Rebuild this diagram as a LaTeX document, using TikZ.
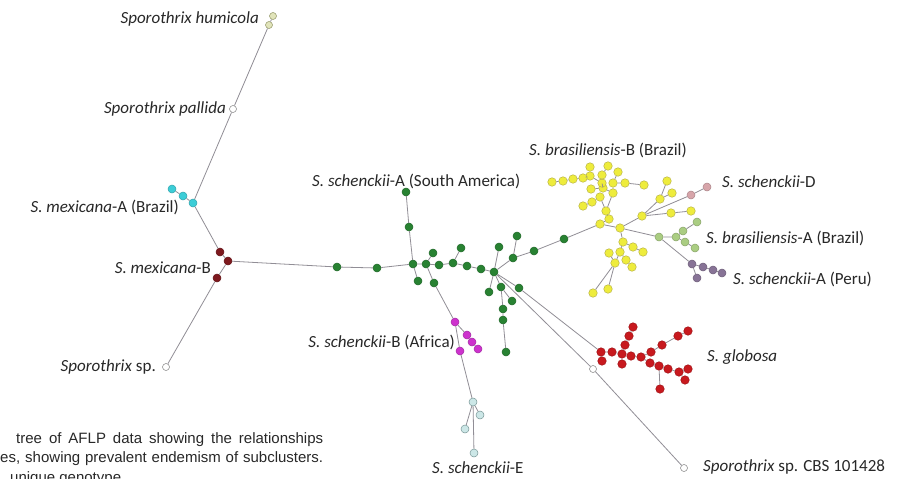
\documentclass[tikz,border=0pt]{standalone}
\usepackage{fontspec}
\setmainfont{Carlito}
\newfontfamily\capfont{Liberation Sans}
\definecolor{edgec}{RGB}{145,142,150}
\definecolor{txt}{RGB}{40,40,40}
\definecolor{cgreen}{RGB}{40,130,50}
\definecolor{cyellow}{RGB}{238,236,60}
\definecolor{cyellowd}{RGB}{185,180,70}
\definecolor{ccyan}{RGB}{60,205,215}
\definecolor{cmaroon}{RGB}{125,25,30}
\definecolor{cmagenta}{RGB}{205,50,205}
\definecolor{cred}{RGB}{200,25,30}
\definecolor{cpink}{RGB}{215,165,170}
\definecolor{clgreen}{RGB}{170,205,130}
\definecolor{cpurple}{RGB}{135,115,150}
\definecolor{cltblue}{RGB}{170,215,215}
\definecolor{colive}{RGB}{205,210,140}
\tikzset{
  dot/.style={circle, inner sep=0pt, minimum size=8pt, line width=0.5pt},
  gn/.style={dot, fill=cgreen, draw=cgreen!80!black},
  yn/.style={dot, minimum size=8.5pt, fill=cyellow, draw=cyellowd},
  cn/.style={dot, fill=ccyan, draw=ccyan!80!black},
  mn/.style={dot, fill=cmaroon, draw=cmaroon!80!black},
  mgn/.style={dot, fill=cmagenta, draw=cmagenta!80!black},
  rn/.style={dot, minimum size=8.5pt, fill=cred, draw=cred!80!black},
  pn/.style={dot, fill=cpink, draw=cpink!80!black},
  lgn/.style={dot, fill=clgreen, draw=clgreen!80!black},
  pun/.style={dot, fill=cpurple, draw=cpurple!80!black},
  lbn/.style={dot, fill=cltblue!60!white, draw=cltblue!70!black},
  on/.style={dot, minimum size=7pt, fill=colive!60!white, draw=colive!70!black},
  wn/.style={dot, minimum size=7pt, fill=white, draw=gray},
  lab/.style={inner sep=0pt, text=txt, font=\fontsize{17}{20}\selectfont},
  capt/.style={inner sep=0pt, anchor=base west, text=txt, font=\capfont\fontsize{15}{17}\selectfont},
  ed/.style={draw=edgec, line width=0.8pt}
}
\begin{document}
\begin{tikzpicture}[x=1pt,y=-1pt]
\clip (0,0) rectangle (902,479);
\fill[white] (0,0) rectangle (902,479);
% ---------- left part
\node[on] (hum1) at (273,16) {};
\node[on] (hum2) at (269,25) {};
\node[wn] (pal) at (233,109) {};
\node[cn] (cy1) at (172,189) {};
\node[cn] (cy2) at (183,196) {};
\node[cn] (cy3) at (193,203) {};
\node[mn] (m1) at (220,252) {};
\node[mn] (m2) at (228,261) {};
\node[mn] (m3) at (217,278) {};
\node[wn] (sp) at (166,367) {};
% ---------- green
\node[gn] (g1) at (337,267) {};
\node[gn] (g2) at (377,268) {};
\node[gn] (gA) at (413,264) {};
\node[gn] (gt1) at (409,227) {};
\node[gn] (gt2) at (406,192) {};
\node[gn] (gd1) at (418,281) {};
\node[gn] (g3) at (426,264) {};
\node[gn] (g3u) at (433,253) {};
\node[gn] (g3d) at (434,283) {};
\node[gn] (g4) at (439,265) {};
\node[gn] (g5) at (453,263) {};
\node[gn] (g5u) at (461,248) {};
\node[gn] (g6) at (467,266) {};
\node[gn] (g7) at (481,269) {};
\node[gn] (gB) at (494,272) {};
\node[gn] (gBu) at (499,247) {};
\node[gn] (gBr1) at (513,258) {};
\node[gn] (gBr1u) at (517,236) {};
\node[gn] (gBr2) at (534,251) {};
\node[gn] (gBr3) at (564,239) {};
\node[gn] (gl1) at (489,292) {};
\node[gn] (gl2) at (501,287) {};
\node[gn] (gl2r) at (512,301) {};
\node[gn] (gl3) at (503,309) {};
\node[gn] (gl4) at (503,320) {};
\node[gn] (gl5) at (506,352) {};
\node[gn] (gr) at (519,288) {};
% ---------- magenta / light blue
\node[mgn] (mg1) at (455,322) {};
\node[mgn] (mg2) at (467,335) {};
\node[mgn] (mg3) at (472,342) {};
\node[mgn] (mg4) at (478,349) {};
\node[mgn] (mg5) at (460,351) {};
\node[lbn] (e1) at (473,402) {};
\node[lbn] (e2) at (480,415) {};
\node[lbn] (e3) at (465,429) {};
\node[lbn] (e4) at (474,453) {};
% ---------- yellow
\node[yn] (yv) at (600,224) {};
\node[yn] (yu) at (609,219) {};
\node[yn] (yh) at (620,228) {};
\node[yn] (yt) at (606,211) {};
\node[yn] (yp) at (613,193) {};
\node[yn] (yr) at (600,197) {};
\node[yn] (yq) at (592,202) {};
\node[yn] (ys) at (583,206) {};
\node[yn] (yo) at (603,188) {};
\node[yn] (yn1) at (591,189) {};
\node[yn] (yk) at (613,183) {};
\node[yn] (yl) at (625,183) {};
\node[yn] (ym) at (644,185) {};
\node[yn] (yi) at (618,172) {};
\node[yn] (yj) at (602,183) {};
\node[yn] (ye) at (590,176) {};
\node[yn] (yd) at (583,178) {};
\node[yn] (yc) at (573,179) {};
\node[yn] (yb) at (563,181) {};
\node[yn] (ya) at (552,182) {};
\node[yn] (yg) at (602,175) {};
\node[yn] (yhh) at (608,166) {};
\node[yn] (yf) at (590,167) {};
\node[yn] (L1) at (623,242) {};
\node[yn] (L2) at (620,252) {};
\node[yn] (L3) at (633,247) {};
\node[yn] (L4) at (643,252) {};
\node[yn] (L5) at (626,260) {};
\node[yn] (L6) at (632,267) {};
\node[yn] (L7) at (615,263) {};
\node[yn] (L8) at (609,253) {};
\node[yn] (L9) at (608,289) {};
\node[yn] (L10) at (593,293) {};
\node[yn] (R0) at (642,216) {};
\node[yn] (R1) at (660,199) {};
\node[yn] (R2) at (667,181) {};
\node[yn] (R3) at (672,193) {};
\node[yn] (R4) at (671,213) {};
\node[yn] (R5) at (691,211) {};
\node[pn] (P1) at (691,195) {};
\node[pn] (P2) at (707,187) {};
\node[lgn] (LG1) at (659,237) {};
\node[lgn] (LG2) at (676,237) {};
\node[lgn] (LG3) at (683,231) {};
\node[lgn] (LG4) at (697,222) {};
\node[lgn] (LG5) at (685,242) {};
\node[lgn] (LG6) at (695,248) {};
\node[pun] (PU1) at (692,264) {};
\node[pun] (PU2) at (703,267) {};
\node[pun] (PU3) at (713,270) {};
\node[pun] (PU4) at (722,273) {};
\node[pun] (PU5) at (697,278) {};
% ---------- red
\node[rn] (r1) at (601,352) {};
\node[rn] (r2) at (602,361) {};
\node[rn] (r3) at (612,352) {};
\node[rn] (r4) at (622,354) {};
\node[rn] (r5) at (622,364) {};
\node[rn] (r6) at (625,345) {};
\node[rn] (r7) at (629,336) {};
\node[rn] (r8) at (633,327) {};
\node[rn] (r9) at (631,356) {};
\node[rn] (r10) at (641,357) {};
\node[rn] (r11) at (651,352) {};
\node[rn] (r12) at (662,345) {};
\node[rn] (r13) at (678,336) {};
\node[rn] (r14) at (688,331) {};
\node[rn] (r15) at (650,363) {};
\node[rn] (r16) at (659,366) {};
\node[rn] (r17) at (668,369) {};
\node[rn] (r18) at (679,372) {};
\node[rn] (r19) at (688,369) {};
\node[rn] (r20) at (685,380) {};
\node[rn] (r21) at (660,389) {};
\node[wn] (oc) at (593,369) {};
\node[wn] (cbs) at (684,468) {};
% ---------- edges
\path[ed] (hum1)--(hum2) (hum2)--(pal) (pal)--(cy3) (cy1)--(cy2) (cy2)--(cy3)
  (cy3)--(m1) (m1)--(m2) (m2)--(m3) (m3)--(sp) (m2)--(g1);
\path[ed] (g1)--(g2) (g2)--(gA) (gA)--(gt1) (gt1)--(gt2) (gA)--(gd1) (gA)--(g3)
  (g3)--(g3u) (g3)--(g3d) (g3)--(g4) (g4)--(g5) (g5)--(g5u) (g5)--(g6) (g6)--(g7) (g7)--(gB)
  (gB)--(gBu) (gB)--(gBr1) (gBr1)--(gBr1u) (gBr1)--(gBr2) (gBr2)--(gBr3) (gBr3)--(yv)
  (gB)--(gl1) (gB)--(gl2) (gl2)--(gl2r) (gl2)--(gl3) (gl3)--(gl4) (gl4)--(gl5)
  (gB)--(gr) (gr)--(r1) (gB)--(oc) (oc)--(cbs);
\path[ed] (g3d)--(mg1) (mg1)--(mg2) (mg2)--(mg3) (mg3)--(mg4) (mg1)--(mg5) (mg5)--(e1)
  (e1)--(e2) (e1)--(e3) (e1)--(e4);
\path[ed] (yv)--(yu) (yv)--(yh) (yu)--(yt) (yt)--(yp) (yt)--(yr) (yr)--(yq) (yq)--(ys)
  (yp)--(yo) (yo)--(yn1) (yp)--(yk) (yk)--(yl) (yl)--(ym) (yk)--(yi) (yo)--(yj)
  (yj)--(ye) (ye)--(yd) (yd)--(yc) (yc)--(yb) (yb)--(ya) (yj)--(yg) (yg)--(yhh) (ye)--(yf)
  (yh)--(L1) (L1)--(L2) (L1)--(L3) (L3)--(L4) (L2)--(L5) (L5)--(L6) (L2)--(L7) (L7)--(L8)
  (L7)--(L9) (L7)--(L10)
  (yh)--(R0) (R0)--(R1) (R1)--(R2) (R1)--(R3) (R0)--(P1) (P1)--(P2) (R0)--(R4) (R4)--(R5)
  (yh)--(LG1) (LG1)--(LG2) (LG2)--(LG3) (LG3)--(LG4) (LG2)--(LG5) (LG5)--(LG6)
  (LG1)--(PU1) (PU1)--(PU2) (PU2)--(PU3) (PU3)--(PU4) (PU1)--(PU5);
\path[ed] (r1)--(r2) (r1)--(r3) (r3)--(r4) (r4)--(r5) (r4)--(r6) (r6)--(r7) (r7)--(r8)
  (r4)--(r9) (r9)--(r10) (r10)--(r11) (r11)--(r12) (r12)--(r13) (r13)--(r14)
  (r10)--(r15) (r15)--(r16) (r16)--(r17) (r17)--(r18) (r18)--(r19) (r18)--(r20) (r16)--(r21);
% ---------- labels
\node[lab, anchor=east] (t1) at (259,19) {\textit{Sporothrix humicola}};
\node[lab, anchor=east] (t2) at (226,109) {\textit{Sporothrix pallida}};
\node[lab, anchor=east] (t3) at (179,207) {\textit{S. mexicana}-A (Brazil)};
\node[lab, anchor=east] (t4) at (211,268) {\textit{S. mexicana}-B};
\node[lab, anchor=east] (t5) at (156,367) {\textit{Sporothrix} sp.};
\node[lab, anchor=west] (t6) at (312,181) {\textit{S. schenckii}-A (South America)};
\node[lab, anchor=west] (t7) at (529,150) {\textit{S. brasiliensis}-B (Brazil)};
\node[lab, anchor=west] (t8) at (722,182) {\textit{S. schenckii}-D};
\node[lab, anchor=west] (t9) at (706,238) {\textit{S. brasiliensis}-A (Brazil)};
\node[lab, anchor=west] (t10) at (733,279) {\textit{S. schenckii}-A (Peru)};
\node[lab, anchor=west] (t11) at (707,357) {\textit{S. globosa}};
\node[lab, anchor=east] (t12) at (455,342) {\textit{S. schenckii}-B (Africa)};
\node[lab, anchor=west] (t13) at (432,468) {\textit{S. schenckii}-E};
\node[lab, anchor=west] (t14) at (703,467) {\textit{Sporothrix} sp. CBS 101428};
% ---------- caption fragment
\node[capt] (c1) at (16,443) {\makebox[307pt][s]{tree of AFLP data showing the relationships}};
\node[capt] (c2) at (0,462) {\makebox[323pt][s]{es, showing prevalent endemism of subclusters.}};
\node[capt] (c3) at (10,482) {unique genotype.};
\end{tikzpicture}
\end{document}
